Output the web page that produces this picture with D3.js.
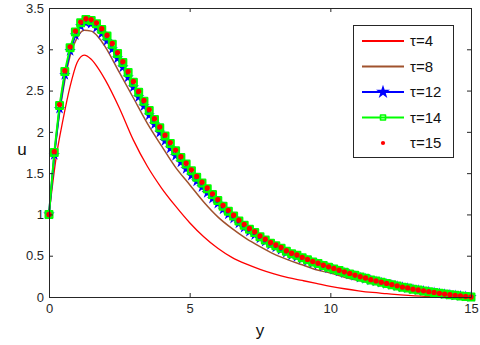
<!DOCTYPE html>
<meta charset="utf-8">
<style>
    body { margin: 0; background: #fff; }
    text { font-family: "Liberation Sans", Arial, sans-serif; }
</style>
<svg width="480" height="345"></svg>

<script src="https://d3js.org/d3.v7.min.js"></script>
<script>
    // sample positions of the marked curves (81 nodes on [0, 15])
    var yGrid = d3.range(81).map(function (i) {
        return i * 15 / 80;
    });
    // sample positions read for the plain curves
    var yLine = [0, 0.25, 0.5, 0.75, 1, 1.25, 1.5, 1.75, 2, 2.5, 3, 3.5, 4, 4.5, 5, 5.5, 6, 6.5,
        7, 7.5, 8, 8.5, 9, 9.5, 10, 10.5, 11, 11.5, 12, 12.5, 13, 13.5, 14, 14.5, 15];

    var u4 = [1.00, 1.68, 2.15, 2.55, 2.84, 2.93, 2.88, 2.77, 2.63, 2.29, 1.90, 1.58, 1.32, 1.10,
        0.90, 0.73, 0.59, 0.48, 0.40, 0.335, 0.28, 0.235, 0.20, 0.165, 0.13, 0.10, 0.075, 0.055,
        0.04, 0.025, 0.013, 0.005, 0.001, 0, 0];
    var u8 = [1.00, 1.90, 2.50, 2.92, 3.14, 3.23, 3.22, 3.15, 3.03, 2.72, 2.41, 2.10, 1.83, 1.57,
        1.36, 1.15, 0.97, 0.83, 0.71, 0.61, 0.52, 0.45, 0.39, 0.33, 0.29, 0.24, 0.20, 0.17,
        0.14, 0.11, 0.08, 0.055, 0.035, 0.015, 0];
    var u12 = [1.00, 1.72, 2.28, 2.69, 2.98, 3.17, 3.28, 3.32, 3.31, 3.26, 3.19, 3.10, 3.00, 2.89,
        2.78, 2.66, 2.54, 2.42, 2.31, 2.20, 2.09, 1.99, 1.89, 1.80, 1.71, 1.63, 1.55, 1.47,
        1.40, 1.33, 1.26, 1.19, 1.13, 1.06, 1.00, 0.95, 0.89, 0.84, 0.79, 0.75, 0.71, 0.67,
        0.63, 0.60, 0.57, 0.535, 0.505, 0.485, 0.46, 0.435, 0.41, 0.39, 0.37, 0.35, 0.33, 0.31,
        0.29, 0.272, 0.254, 0.235, 0.22, 0.202, 0.188, 0.173, 0.159, 0.145, 0.131, 0.117, 0.107,
        0.093, 0.083, 0.073, 0.064, 0.054, 0.044, 0.035, 0.027, 0.02, 0.013, 0.006, 0];
    var u14 = [1.00, 1.75, 2.32, 2.73, 3.02, 3.21, 3.32, 3.36, 3.35, 3.31, 3.24, 3.16, 3.06, 2.95,
        2.84, 2.72, 2.60, 2.48, 2.37, 2.26, 2.15, 2.05, 1.95, 1.86, 1.77, 1.69, 1.61, 1.53,
        1.45, 1.38, 1.31, 1.24, 1.17, 1.10, 1.04, 0.98, 0.92, 0.87, 0.82, 0.78, 0.73, 0.69,
        0.65, 0.62, 0.59, 0.555, 0.525, 0.505, 0.475, 0.45, 0.425, 0.405, 0.38, 0.36, 0.34, 0.32,
        0.30, 0.28, 0.262, 0.242, 0.227, 0.207, 0.193, 0.178, 0.163, 0.148, 0.133, 0.119, 0.109,
        0.094, 0.084, 0.074, 0.064, 0.054, 0.044, 0.035, 0.027, 0.02, 0.013, 0.006, 0];
    var u15 = [1.00, 1.76, 2.33, 2.74, 3.03, 3.22, 3.33, 3.37, 3.36, 3.32, 3.25, 3.17, 3.07, 2.96,
        2.85, 2.73, 2.61, 2.49, 2.38, 2.27, 2.16, 2.06, 1.96, 1.87, 1.78, 1.70, 1.62, 1.54,
        1.46, 1.39, 1.32, 1.25, 1.18, 1.11, 1.05, 0.99, 0.93, 0.88, 0.83, 0.79, 0.74, 0.70,
        0.66, 0.63, 0.60, 0.56, 0.53, 0.51, 0.48, 0.455, 0.43, 0.41, 0.385, 0.365, 0.345, 0.325,
        0.305, 0.285, 0.265, 0.245, 0.23, 0.21, 0.195, 0.18, 0.165, 0.15, 0.135, 0.12, 0.11,
        0.095, 0.085, 0.075, 0.065, 0.055, 0.045, 0.036, 0.028, 0.02, 0.013, 0.006, 0];

    var labels = ["\u03c4=4", "\u03c4=8", "\u03c4=12", "\u03c4=14", "\u03c4=15"];
    var xTicks = [0, 5, 10, 15];
    var uTicks = [0, 0.5, 1, 1.5, 2, 2.5, 3, 3.5];

    var series = [
        {name: labels[0], xs: yLine, vs: u4, color: "#ff0000", width: 1.3, line: true, marker: null},
        {name: labels[1], xs: yLine, vs: u8, color: "#a0522d", width: 1.5, line: true, marker: null},
        {name: labels[2], xs: yGrid, vs: u12, color: "#0000ff", width: 2, line: true, marker: "star"},
        {name: labels[3], xs: yGrid, vs: u14, color: "#00ff00", width: 2, line: true, marker: "square"},
        {name: labels[4], xs: yGrid, vs: u15, color: "#ff0000", width: 0, line: false, marker: "dot"}
    ];

    var svg = d3.select("svg"),
        margin = {top: 8, right: 9, bottom: 48, left: 49},
        W = +svg.attr("width") - margin.left - margin.right,
        H = +svg.attr("height") - margin.top - margin.bottom,
        AXIS = "#262626",
        g = svg.append("g").attr("transform", "translate(" + margin.left + "," + margin.top + ")");

    var x = d3.scaleLinear().domain([0, 15]).range([0, W]),
        y = d3.scaleLinear().domain([0, 3.5]).range([H, 0]);

    svg.insert("rect", "g").attr("width", 480).attr("height", 345).attr("fill", "#fff");

    // curves
    series.forEach(function (s) {
        var pts = s.xs.map(function (d, i) {
            return [d, s.vs[i]];
        });
        if (s.line) {
            g.append("path")
                .datum(pts)
                .attr("fill", "none")
                .attr("stroke", s.color)
                .attr("stroke-width", s.width)
                .attr("stroke-linejoin", "round")
                .attr("d", d3.line()
                    .curve(s.marker ? d3.curveLinear : d3.curveMonotoneX)
                    .x(function (d) { return x(d[0]); })
                    .y(function (d) { return y(d[1]); }));
        }
        if (s.marker) {
            drawMarkers(g, pts.map(function (d) {
                return [x(d[0]), y(d[1])];
            }), s);
        }
    });

    function drawMarkers(sel, pts, s) {
        var m = sel.append("g").selectAll("path")
            .data(pts)
            .enter()
            .append("path")
            .attr("transform", function (d) {
                return "translate(" + d[0] + "," + d[1] + ")";
            });
        if (s.marker === "star") {
            m.attr("d", d3.symbol().type(d3.symbolStar).size(40))
                .attr("fill", s.color);
        } else if (s.marker === "square") {
            m.attr("d", "M-3.3,-3.3H3.3V3.3H-3.3Z")
                .attr("fill", "none")
                .attr("stroke", s.color)
                .attr("stroke-width", 2.4)
                .attr("stroke-linejoin", "round");
        } else {
            m.attr("d", d3.symbol().type(d3.symbolCircle).size(22))
                .attr("fill", s.color);
        }
        return m;
    }

    // axes, ticks pointing inward
    function styleAxis(a) {
        a.select(".domain").attr("stroke", AXIS);
        a.selectAll(".tick line").attr("stroke", AXIS);
        a.selectAll("text").attr("fill", AXIS).attr("font-size", 13)
            .style("font-family", "'Liberation Sans', Arial, sans-serif");
    }

    styleAxis(g.append("g").attr("transform", "translate(0," + H + ")")
        .call(d3.axisBottom(x).tickValues(xTicks).tickSizeInner(-4).tickSizeOuter(0).tickPadding(7)));
    styleAxis(g.append("g")
        .call(d3.axisTop(x).tickValues(xTicks).tickSizeInner(-4).tickSizeOuter(0).tickFormat("")));
    styleAxis(g.append("g")
        .call(d3.axisLeft(y).tickValues(uTicks).tickSizeInner(-4).tickSizeOuter(0).tickPadding(5)
            .tickFormat(function (d) { return d; })));
    styleAxis(g.append("g").attr("transform", "translate(" + W + ",0)")
        .call(d3.axisRight(y).tickValues(uTicks).tickSizeInner(-4).tickSizeOuter(0).tickFormat("")));

    // axis titles
    svg.append("text")
        .attr("x", margin.left + W / 2)
        .attr("y", 336)
        .attr("text-anchor", "middle")
        .attr("font-size", 17)
        .attr("fill", "#111")
        .text("y");
    svg.append("text")
        .attr("x", 22)
        .attr("y", 155)
        .attr("text-anchor", "middle")
        .attr("font-size", 17)
        .attr("fill", "#111")
        .text("u");

    // legend
    var LEG_X = 353, LEG_Y = 25, LEG_W = 100, LEG_H = 132, ROW = 25.5;
    var legend = svg.append("g");
    legend.append("rect")
        .attr("x", LEG_X + 0.5)
        .attr("y", LEG_Y + 0.5)
        .attr("width", LEG_W)
        .attr("height", LEG_H)
        .attr("fill", "#fff")
        .attr("stroke", AXIS)
        .attr("stroke-width", 1);

    series.forEach(function (s, i) {
        var cy = LEG_Y + 16 + i * ROW;
        if (s.line) {
            legend.append("line")
                .attr("x1", LEG_X + 9)
                .attr("x2", LEG_X + 51)
                .attr("y1", cy)
                .attr("y2", cy)
                .attr("stroke", s.color)
                .attr("stroke-width", 2);
        }
        if (s.marker) {
            var mk = drawMarkers(legend, [[LEG_X + 30, cy]], s);
            if (s.marker === "star") mk.attr("d", d3.symbol().type(d3.symbolStar).size(60));
            if (s.marker === "dot") mk.attr("d", d3.symbol().type(d3.symbolCircle).size(14));
            if (s.marker === "square") mk.attr("d", "M-2.5,-2.5H2.5V2.5H-2.5Z").attr("stroke-width", 1.6);
        }
        legend.append("text")
            .attr("x", LEG_X + 57)
            .attr("y", cy)
            .attr("dy", "0.36em")
            .attr("font-size", 15)
            .attr("fill", "#111")
            .text(s.name);
    });
</script>
